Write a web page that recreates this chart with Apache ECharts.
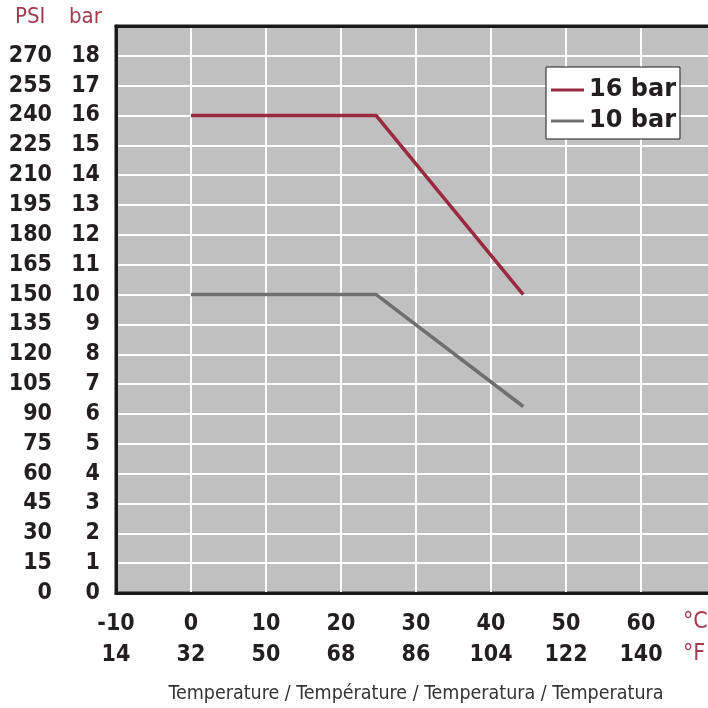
<!DOCTYPE html>
<html>
<head>
<meta charset="utf-8">
<script src="https://cdn.jsdelivr.net/npm/echarts@6/dist/echarts.min.js"></script>
<style>
html,body{margin:0;padding:0;background:#fff;}
#chart{width:708px;height:708px;}
</style>
</head>
<body>
<div id="chart"></div>
<script>
// Data
const tempC = [0, 24.7, 44.3];
const bar16 = [16, 16, 10];
const bar10 = [10, 10, 6.25];
const seriesNames = ['16 bar', '10 bar'];
const celsiusTicks = [-10, 0, 10, 20, 30, 40, 50, 60];
const fahrenheitTicks = [14, 32, 50, 68, 86, 104, 122, 140];
const barTicks = [0,1,2,3,4,5,6,7,8,9,10,11,12,13,14,15,16,17,18];
const psiTicks = [0,15,30,45,60,75,90,105,120,135,150,165,180,195,210,225,240,255,270];
const xTitle = 'Temperature / Température / Temperatura / Temperatura';

const FONT = "'DejaVu Sans Condensed', 'DejaVu Sans', sans-serif";
const FONT_W = "'DejaVu Sans', sans-serif";
const RED = '#9a2a40';
const GRAY = '#6f6f6f';
const TXT = '#231f20';
const UNIT = '#a33a50';

const chart = echarts.init(document.getElementById('chart'));
chart.setOption({
  animation: false,
  textStyle: { fontFamily: FONT },
  grid: {
    left: 116, top: 26, width: 600, height: 567,
    outerBoundsMode: 'none',
    containLabel: false,
    show: true, backgroundColor: '#c0c0c0',
    borderColor: '#1a1a1a', borderWidth: 3
  },
  legend: {
    orient: 'vertical',
    left: 546, top: 67,
    backgroundColor: '#fff',
    borderColor: '#1a1a1a', borderWidth: 1,
    padding: [10, 4, 5, 5],
    itemGap: 5,
    itemWidth: 33, itemHeight: 3,
    icon: 'rect',
    textStyle: { fontFamily: FONT_W, fontWeight: 'bold', fontSize: 24, color: TXT, lineHeight: 26 },
    data: seriesNames
  },
  xAxis: [
    {
      type: 'value', min: -10, max: 70, interval: 10,
      axisLine: { show: true, onZero: false, lineStyle: { color: '#1a1a1a', width: 3 } },
      axisTick: { show: false },
      splitLine: { show: true, lineStyle: { color: '#fff', width: 2 } },
      axisLabel: {
        margin: 16,
        formatter: function (v) {
          const i = celsiusTicks.indexOf(v);
          if (i < 0) return '';
          return '{c|' + celsiusTicks[i] + '}\n{f|' + fahrenheitTicks[i] + '}';
        },
        rich: {
          c: { fontFamily: FONT, fontWeight: 'bold', fontSize: 23, color: TXT, lineHeight: 31 },
          f: { fontFamily: FONT, fontWeight: 'bold', fontSize: 23, color: TXT, lineHeight: 31 }
        }
      },
      name: xTitle,
      nameLocation: 'middle',
      nameGap: 91,
      nameTextStyle: { fontFamily: FONT, fontSize: 19.5, color: '#333', fontWeight: 'normal' }
    },
    {
      type: 'value', min: -10, max: 70, interval: 10, position: 'top', z: 5,
      axisLine: { show: true, onZero: false, lineStyle: { color: '#1a1a1a', width: 3 } },
      axisTick: { show: false },
      axisLabel: { show: false },
      splitLine: { show: false }
    }
  ],
  yAxis: [
    {
      type: 'value', min: 0, max: 19, interval: 1, position: 'left',
      axisLine: { show: true, onZero: false, lineStyle: { color: '#1a1a1a', width: 3 } },
      axisTick: { show: false },
      splitLine: { show: true, lineStyle: { color: '#fff', width: 2 } },
      axisLabel: {
        margin: 16,
        fontFamily: FONT, fontWeight: 'bold', fontSize: 23, color: TXT,
        formatter: function (v) { return barTicks.indexOf(v) >= 0 ? String(v) : ''; }
      }
    },
    {
      type: 'value', min: 0, max: 285, interval: 15, position: 'left',
      axisLine: { show: false, onZero: false },
      axisTick: { show: false },
      splitLine: { show: false },
      axisLabel: {
        margin: 64,
        fontFamily: FONT, fontWeight: 'bold', fontSize: 23, color: TXT,
        formatter: function (v) { return psiTicks.indexOf(v) >= 0 ? String(v) : ''; }
      }
    }
  ],
  series: [
    {
      name: seriesNames[0], type: 'line', xAxisIndex: 0, yAxisIndex: 0,
      data: tempC.map((t, i) => [t, bar16[i]]),
      symbol: 'none', lineStyle: { color: RED, width: 3.5 }, itemStyle: { color: RED }
    },
    {
      name: seriesNames[1], type: 'line', xAxisIndex: 0, yAxisIndex: 0,
      data: tempC.map((t, i) => [t, bar10[i]]),
      symbol: 'none', lineStyle: { color: GRAY, width: 3.5 }, itemStyle: { color: GRAY }
    }
  ],
  graphic: [
    { type: 'text', left: 15, top: 6, style: { text: 'PSI', font: "normal 22px " + FONT, fill: UNIT } },
    { type: 'text', left: 69, top: 6, style: { text: 'bar', font: "normal 22px " + FONT, fill: UNIT } },
    { type: 'text', left: 683, top: 611, style: { text: '°C', font: "normal 23px " + FONT, fill: UNIT } },
    { type: 'text', left: 683, top: 643, style: { text: '°F', font: "normal 23px " + FONT, fill: UNIT } }
  ]
});
</script>
</body>
</html>
